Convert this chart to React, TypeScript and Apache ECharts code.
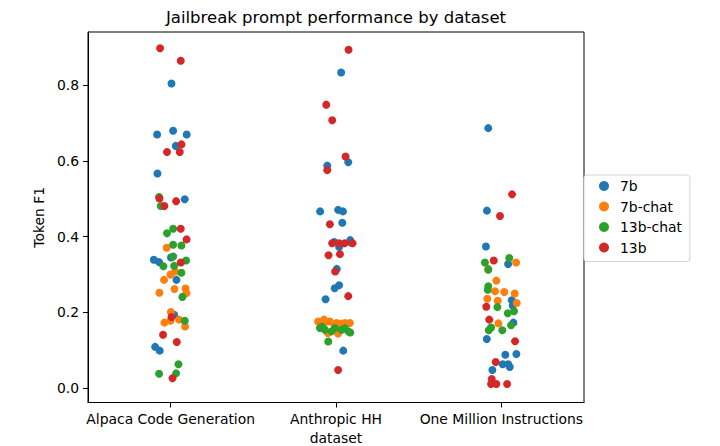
import React, { useEffect, useRef } from "react";
import * as echarts from "echarts";

const categories = ["Alpaca Code Generation", "Anthropic HH", "One Million Instructions"];
const hueNames = ["7b", "7b-chat", "13b-chat", "13b"];
const hueColors = ["#1f77b4", "#ff7f0e", "#2ca02c", "#d62728"];
const yTicks = [0, 0.2, 0.4, 0.6, 0.8];

// [jitter, Token F1] per hue per dataset
const b7Alpaca = [[0.005, 0.805], [-0.082, 0.670], [0.015, 0.680], [0.097, 0.670], [0.031, 0.640], [-0.080, 0.567], [0.085, 0.499], [-0.102, 0.339], [-0.070, 0.333], [0.002, 0.345], [0.035, 0.286], [0.021, 0.194], [-0.094, 0.109], [-0.066, 0.099]];
const b7Anthropic = [[0.031, 0.834], [0.074, 0.597], [-0.053, 0.588], [-0.096, 0.467], [0.013, 0.471], [0.042, 0.467], [0.038, 0.437], [-0.011, 0.386], [0.086, 0.391], [0.090, 0.385], [0.019, 0.373], [0.005, 0.315], [0.019, 0.272], [-0.008, 0.264], [-0.063, 0.235], [0.044, 0.099]];
const b7Million = [[-0.079, 0.687], [-0.087, 0.469], [-0.093, 0.374], [0.041, 0.328], [0.063, 0.232], [0.069, 0.218], [0.073, 0.173], [-0.088, 0.130], [0.024, 0.088], [0.091, 0.090], [0.008, 0.063], [0.042, 0.063], [0.051, 0.056], [-0.054, 0.048]];

const chat7Alpaca = [[-0.024, 0.371], [0.027, 0.308], [-0.001, 0.300], [-0.040, 0.286], [-0.068, 0.252], [0.023, 0.262], [0.090, 0.263], [0.096, 0.251], [0.001, 0.201], [-0.038, 0.173], [-0.001, 0.178], [0.051, 0.181], [0.087, 0.163]];
const chat7Anthropic = [[-0.108, 0.176], [-0.073, 0.181], [-0.060, 0.175], [-0.037, 0.176], [0.004, 0.172], [-0.007, 0.163], [0.030, 0.170], [0.054, 0.172], [0.084, 0.172], [-0.049, 0.145], [0.012, 0.144]];
const chat7Million = [[0.089, 0.332], [-0.079, 0.315], [-0.030, 0.284], [-0.038, 0.256], [0.018, 0.254], [0.081, 0.250], [-0.085, 0.236], [-0.022, 0.231], [0.093, 0.225], [-0.018, 0.171]];

const chat13Alpaca = [[-0.070, 0.505], [-0.060, 0.481], [-0.022, 0.409], [0.015, 0.421], [0.015, 0.379], [0.065, 0.377], [-0.044, 0.322], [0.015, 0.348], [0.021, 0.323], [0.093, 0.337], [0.065, 0.305], [0.071, 0.241], [0.085, 0.178], [0.047, 0.063], [-0.070, 0.038], [0.033, 0.039]];
const chat13Anthropic = [[-0.097, 0.159], [-0.085, 0.162], [-0.067, 0.154], [-0.027, 0.150], [-0.007, 0.158], [0.034, 0.154], [0.054, 0.158], [0.074, 0.150], [0.086, 0.147], [-0.047, 0.123]];
const chat13Million = [[-0.099, 0.332], [0.048, 0.344], [-0.079, 0.313], [-0.079, 0.269], [-0.082, 0.260], [-0.024, 0.214], [0.077, 0.203], [0.039, 0.198], [0.059, 0.166], [-0.062, 0.160], [-0.076, 0.153], [0.006, 0.153]];

const r13Alpaca = [[-0.064, 0.898], [0.061, 0.865], [0.065, 0.644], [-0.022, 0.624], [0.055, 0.624], [-0.068, 0.501], [-0.038, 0.481], [0.033, 0.494], [0.061, 0.421], [0.096, 0.393], [0.061, 0.332], [0.005, 0.188], [-0.046, 0.141], [0.037, 0.122], [0.011, 0.026]];
const r13Anthropic = [[0.076, 0.894], [-0.059, 0.749], [-0.023, 0.708], [0.058, 0.612], [-0.053, 0.576], [-0.037, 0.433], [-0.023, 0.383], [0.018, 0.383], [0.052, 0.383], [0.100, 0.383], [-0.045, 0.351], [0.024, 0.354], [-0.005, 0.308], [0.074, 0.243], [0.013, 0.048]];
const r13Million = [[0.065, 0.512], [-0.008, 0.455], [-0.046, 0.337], [-0.091, 0.215], [-0.073, 0.181], [0.083, 0.124], [-0.034, 0.069], [-0.058, 0.024], [-0.062, 0.011], [-0.030, 0.011], [0.035, 0.011]];

const hueData = [
  [b7Alpaca, b7Anthropic, b7Million],
  [chat7Alpaca, chat7Anthropic, chat7Million],
  [chat13Alpaca, chat13Anthropic, chat13Million],
  [r13Alpaca, r13Anthropic, r13Million],
];

const FONT = "DejaVu Sans";

export default function App() {
  const ref = useRef<HTMLDivElement>(null);
  useEffect(() => {
    if (!ref.current) return;
    const chart = echarts.init(ref.current, undefined, { renderer: "svg" });
    const series = hueNames.map((name, h) => ({
      type: "scatter",
      name,
      symbol: "circle",
      symbolSize: 8,
      itemStyle: { color: hueColors[h], opacity: 1 },
      data: hueData[h].flatMap((pts, c) => pts.map(([j, v]) => [c + j, v])),
    }));
    const option = {
      animation: false,
      title: {
        text: "Jailbreak prompt performance by dataset",
        left: 336,
        top: 9,
        padding: 0,
        textAlign: "center",
        textStyle: { fontFamily: FONT, fontSize: 16.5, fontWeight: "normal", color: "#000" },
      },
      grid: {
        left: 88,
        top: 32,
        width: 496,
        height: 370.5,
        show: true,
        borderColor: "#000",
        borderWidth: 1,
        backgroundColor: "transparent",
        containLabel: false,
        outerBoundsMode: "none",
      },
      legend: {
        orient: "vertical",
        left: 584,
        top: 175,
        data: hueNames,
        icon: "circle",
        itemWidth: 10,
        itemHeight: 10,
        itemGap: 6.5,
        padding: [4, 8, 7, 15],
        backgroundColor: "#fff",
        borderColor: "#d4d4d4",
        borderWidth: 1,
        borderRadius: 3,
        textStyle: { fontFamily: FONT, fontSize: 13.9, color: "#000", padding: [0, 0, 0, 6], lineHeight: 14 },
      },
      xAxis: {
        type: "value",
        min: -0.5,
        max: 2.5,
        name: "dataset",
        nameLocation: "middle",
        nameGap: 28,
        nameTextStyle: { fontFamily: FONT, fontSize: 13.9, color: "#000" },
        axisLine: { show: true, onZero: false, lineStyle: { color: "#000", width: 1 } },
        splitLine: { show: false },
        axisTick: { show: true, length: 5, customValues: [0, 1, 2], lineStyle: { color: "#000" } },
        axisLabel: {
          customValues: [0, 1, 2],
          formatter: (v: number) => categories[Math.round(v)],
          margin: 9,
          fontFamily: FONT,
          fontSize: 13.9,
          color: "#000",
        },
      },
      yAxis: {
        type: "value",
        min: -0.038,
        max: 0.941,
        name: "Token F1",
        nameLocation: "middle",
        nameGap: 38,
        nameTextStyle: { fontFamily: FONT, fontSize: 13.9, color: "#000" },
        axisLine: { show: true, onZero: false, lineStyle: { color: "#000", width: 1 } },
        splitLine: { show: false },
        axisTick: { show: true, length: 5, customValues: yTicks, lineStyle: { color: "#000" } },
        axisLabel: {
          customValues: yTicks,
          formatter: (v: number) => v.toFixed(1),
          margin: 9,
          fontFamily: FONT,
          fontSize: 13.9,
          color: "#000",
        },
      },
      series,
    };
    chart.setOption(option as any);
    return () => chart.dispose();
  }, []);
  return (
    <div
      ref={ref}
      style={{ position: "fixed", left: 0, top: 0, width: 720, height: 446, background: "#fff" }}
    />
  );
}
